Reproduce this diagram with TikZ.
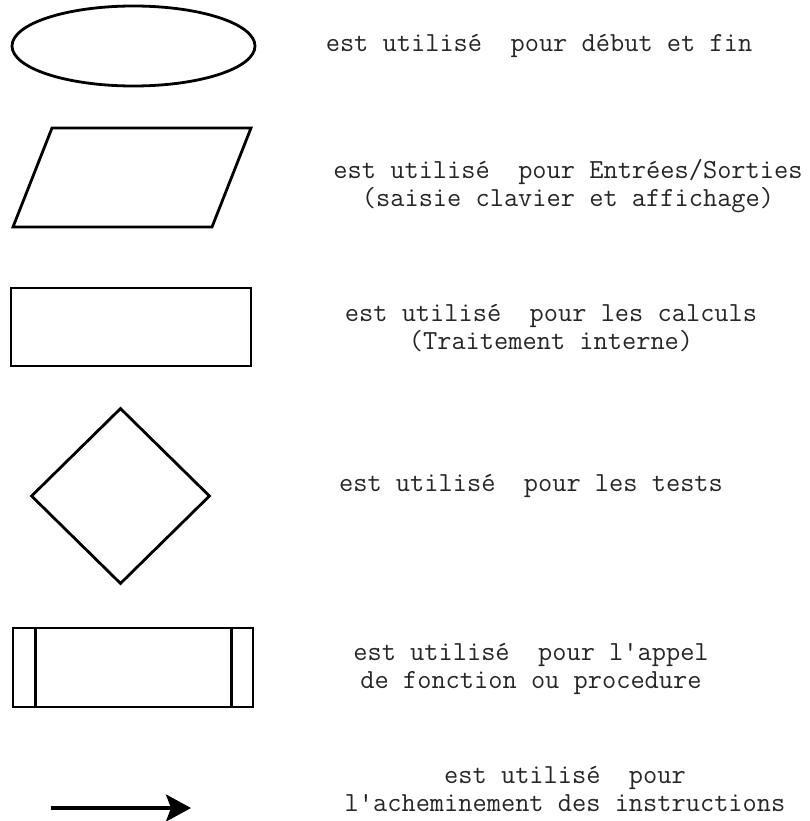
\documentclass[tikz,border=0pt]{standalone}
\usepackage{fontspec}
\usetikzlibrary{shapes.geometric,arrows.meta}
\tikzset{
  shp/.style={draw=black, line width=2.8pt, line join=miter},
  desc/.style={font=\fontsize{27.6pt}{28.5pt}\selectfont\ttfamily, text=black!85, align=center, inner sep=0pt},
  flow/.style={draw=black, line width=3.2pt, -{Stealth[length=25pt,width=27pt,inset=5pt]}}
}
\begin{document}
\begin{tikzpicture}[x=1pt,y=-1pt]
\useasboundingbox (0,0) rectangle (809,821);
% shapes
\node[shp, ellipse, minimum width=243pt, minimum height=80pt, inner sep=0pt] (debut) at (133.5,46) {};
\draw[shp] (52,128) coordinate (p1) -- (251,128) coordinate (p2) -- (212,227) coordinate (p3) -- (13,227) coordinate (p4) -- cycle;
\node[shp, rectangle, minimum width=240pt, minimum height=78pt, inner sep=0pt] (calc) at (131,327) {};
\node[shp, diamond, minimum width=179pt, minimum height=176pt, inner sep=0pt, aspect=1] (test) at (120.5,496) {};
\node[shp, rectangle, minimum width=240pt, minimum height=79pt, inner sep=0pt] (proc) at (133,667.5) {};
\draw[shp] ([xshift=24pt]proc.north west) -- ([xshift=24pt]proc.south west);
\draw[shp] ([xshift=-23pt]proc.north east) -- ([xshift=-23pt]proc.south east);
\coordinate (a0) at (51,808);
\coordinate (a1) at (191,808);
\draw[flow] (a0) -- (a1);
% descriptions
\node[desc] (t1) at (539,46) {est utilisé\ \ pour début et fin};
\node[desc] (t2) at (568,186) {est utilisé\ \ pour Entrées/Sorties\\(saisie clavier et affichage)};
\node[desc] (t3) at (551,328) {est utilisé\ \ pour les calculs\\(Traitement interne)};
\node[desc] (t4) at (531,486) {est utilisé\ \ pour les tests};
\node[desc] (t5) at (531,669) {est utilisé\ \ pour l'appel\\de fonction ou procedure};
\node[desc] (t6) at (565,789) {est utilisé\ \ pour\\l'acheminement des instructions};
\end{tikzpicture}
\end{document}
